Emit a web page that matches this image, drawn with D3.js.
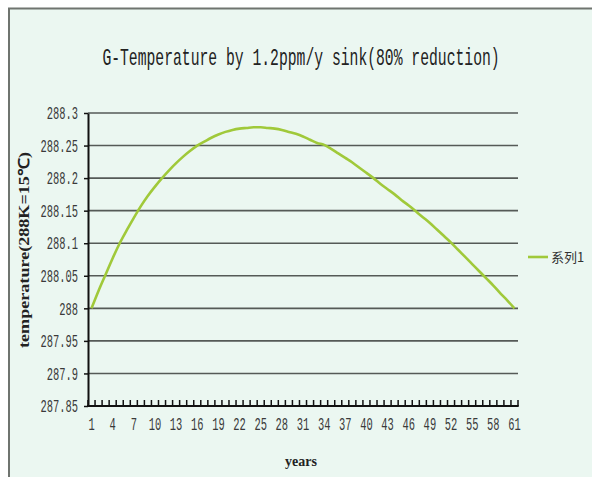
<!DOCTYPE html>
<html><head><meta charset="utf-8">
<script src="https://cdn.jsdelivr.net/npm/d3@7/dist/d3.min.js"></script>
<style>
html,body{margin:0;padding:0;background:#fff;}
svg{display:block;}
</style></head>
<body>
<svg id="chart" width="592" height="477"></svg>
<script>
const titleText = "G-Temperature by 1.2ppm/y sink(80% reduction)";
const xTitle = "years";
const yTitle = "temperature(288K=15\u2103)";
const seriesName = "\u7cfb\u52171";
const years = d3.range(1, 62);
const temperature = [
 288.000, 288.027, 288.052, 288.077, 288.100, 288.120, 288.139, 288.157, 288.173, 288.187,
 288.200, 288.212, 288.223, 288.233, 288.242, 288.250, 288.256, 288.262, 288.267, 288.271,
 288.274, 288.276, 288.277, 288.278, 288.278, 288.277, 288.276, 288.274, 288.271, 288.268,
 288.264, 288.259, 288.254, 288.251, 288.245, 288.238, 288.231, 288.224, 288.216, 288.208,
 288.200, 288.191, 288.183, 288.175, 288.166, 288.158, 288.149, 288.140, 288.131, 288.121,
 288.111, 288.101, 288.090, 288.079, 288.068, 288.057, 288.046, 288.035, 288.023, 288.012,
 288.000
];
const yTicks = [287.85, 287.9, 287.95, 288, 288.05, 288.1, 288.15, 288.2, 288.25, 288.3];
const xTickLabels = years.filter(y => (y - 1) % 3 === 0);

const svg = d3.select("#chart");
const W = 592, H = 477;
const numFont = "'Liberation Mono', 'DejaVu Sans Mono', monospace";
const sx = 0.58;

// background + border
svg.append("rect").attr("x", 9).attr("y", 8.5).attr("width", W + 10).attr("height", H + 10)
  .attr("fill", "#ebf7f1").attr("stroke", "#6f746f").attr("stroke-width", 2);

const pLeft = 88, pRight = 518, pTop = 113, pBottom = 406;
const x = d3.scaleBand().domain(years).range([pLeft, pRight]);
const y = d3.scaleLinear().domain([287.85, 288.3]).range([pBottom, pTop]);

// gridlines
svg.append("g").selectAll("line").data(yTicks.filter(v => v > 287.85)).join("line")
  .attr("x1", pLeft).attr("x2", pRight)
  .attr("y1", d => y(d)).attr("y2", d => y(d))
  .attr("stroke", "#555a57").attr("stroke-width", 1.6);

// y axis
const yAxis = svg.append("g").attr("transform", `translate(${pLeft},0)`)
  .call(d3.axisLeft(y).tickValues(yTicks).tickSize(4).tickSizeOuter(0).tickPadding(7)
    .tickFormat(d => String(+d.toFixed(2))));
yAxis.select(".domain").attr("stroke", "#111").attr("stroke-width", 2);
yAxis.selectAll(".tick line").attr("stroke", "#111").attr("stroke-width", 1.5);
yAxis.selectAll(".tick text")
  .attr("font-family", numFont).attr("font-size", 18).attr("fill", "#3a3a3a")
  .attr("x", -10 / sx).attr("transform", `scale(${sx},1)`);

// x axis: ticks at category boundaries pointing up
const boundaries = d3.range(0, years.length + 1).map(i => pLeft + i * x.step());
svg.append("g").selectAll("line").data(boundaries).join("line")
  .attr("x1", d => d).attr("x2", d => d).attr("y1", pBottom).attr("y2", pBottom - 6)
  .attr("stroke", "#111").attr("stroke-width", 1.5);
svg.append("line").attr("x1", pLeft - 1).attr("x2", pRight + 0.7).attr("y1", pBottom).attr("y2", pBottom)
  .attr("stroke", "#111").attr("stroke-width", 2);
svg.append("g").selectAll("text").data(xTickLabels).join("text")
  .attr("transform", d => `translate(${x(d) + x.bandwidth() / 2},430) scale(${sx},1)`)
  .attr("text-anchor", "middle")
  .attr("font-family", numFont).attr("font-size", 18).attr("fill", "#3a3a3a")
  .text(d => d);

// line
const line = d3.line().x((d, i) => x(years[i]) + x.bandwidth() / 2).y(d => y(d)).curve(d3.curveMonotoneX);
svg.append("path").datum(temperature).attr("d", line)
  .attr("fill", "none").attr("stroke", "#a0c93a").attr("stroke-width", 2.6);

// title
svg.append("text").attr("transform", "translate(301,65) scale(0.64,1)").attr("text-anchor", "middle")
  .attr("font-family", numFont).attr("font-size", 23).attr("fill", "#222")
  .text(titleText);

// axis titles
svg.append("text").attr("x", 301).attr("y", 466).attr("text-anchor", "middle")
  .attr("font-family", "'Liberation Serif', serif").attr("font-weight", "bold")
  .attr("font-size", 14).attr("fill", "#222").text(xTitle);
svg.append("text").attr("transform", "translate(29,250) rotate(-90)").attr("text-anchor", "middle")
  .attr("font-family", "'Liberation Serif', serif").attr("font-weight", "bold")
  .attr("font-size", 15).attr("fill", "#222")
  .attr("textLength", 196).attr("lengthAdjust", "spacingAndGlyphs").text(yTitle);

// legend
svg.append("line").attr("x1", 528).attr("x2", 548).attr("y1", 257).attr("y2", 257)
  .attr("stroke", "#a0c93a").attr("stroke-width", 2.6);
svg.append("text").attr("x", 551).attr("y", 262)
  .attr("font-family", "'Noto Sans CJK SC', sans-serif").attr("font-size", 13).attr("fill", "#333")
  .text(seriesName);
</script>
</body></html>
